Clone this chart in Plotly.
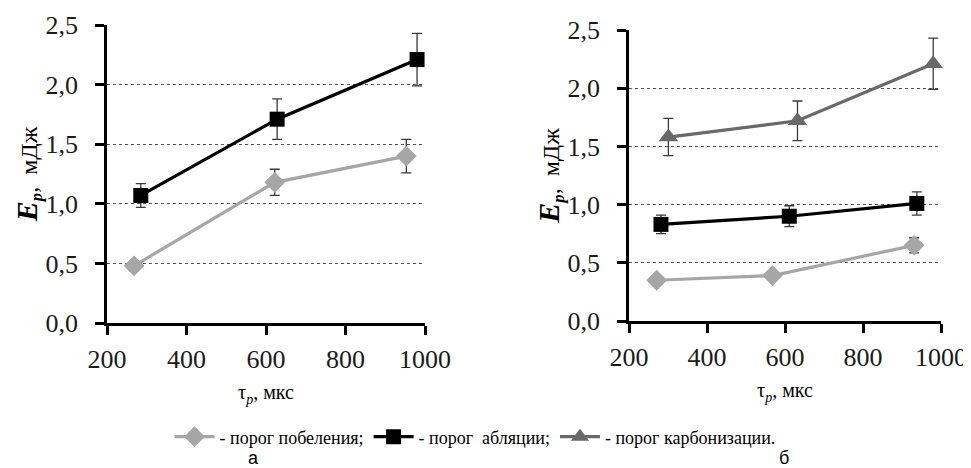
import plotly.graph_objects as go

# page body has an 8px margin: figure drawn at (8, 8) inside the 971x468 window
OFF = 8
FW, FH = 971 - OFF, 468 - OFF

# ---- data: panel а ----
a_white_x = [268, 622, 953]
a_white_y = [0.48, 1.18, 1.40]
a_white_err = [0.04, 0.11, 0.14]

a_abl_x = [285, 628, 980]
a_abl_y = [1.07, 1.71, 2.21]
a_abl_err = [0.10, 0.17, 0.22]

# ---- data: panel б ----
b_white_x = [271, 568, 931]
b_white_y = [0.35, 0.39, 0.65]
b_white_err = [0.03, 0.03, 0.065]

b_abl_x = [282, 611, 938]
b_abl_y = [0.83, 0.90, 1.01]
b_abl_err = [0.08, 0.09, 0.10]

b_carb_x = [301, 632, 980]
b_carb_y = [1.58, 1.72, 2.21]
b_carb_err = [0.16, 0.17, 0.22]

# ---- ticks ----
x_ticks = [200, 400, 600, 800, 1000]
x_ticktext = ["200", "400", "600", "800", "1000"]
y_ticks = [0.0, 0.5, 1.0, 1.5, 2.0, 2.5]
y_ticktext = ["0,0", "0,5", "1,0", "1,5", "2,0", "2,5"]

names = ["- порог побеления;", "- порог\u00a0\u00a0абляции;", "- порог карбонизации."]

C_WHITE = "#a6a6a6"
C_ABL = "#000000"
C_CARB = "#696969"
C_ERR = "#3a3a3a"

SERIF = "'Liberation Serif', 'Times New Roman', serif"
SANS = "'Liberation Sans', Arial, sans-serif"


def fx(px):
    return (px - OFF) / FW


def fy(py):
    return 1 - (py - OFF) / FH


def add_series(fig, x, y, err, color, symbol, size, xa, ya, name, show):
    fig.add_trace(go.Scatter(
        x=x, y=y, mode="lines+markers", name=name, showlegend=show,
        line=dict(color=color, width=3.2),
        marker=dict(symbol=symbol, size=size, color=color),
        error_y=dict(type="data", array=err, visible=True, color=C_ERR,
                     thickness=1.3, width=5),
        xaxis=xa, yaxis=ya, cliponaxis=False,
    ))


fig = go.Figure()
add_series(fig, a_white_x, a_white_y, a_white_err, C_WHITE, "diamond", 16, "x", "y", names[0], False)
add_series(fig, a_abl_x, a_abl_y, a_abl_err, C_ABL, "square", 15, "x", "y", names[1], False)
add_series(fig, b_white_x, b_white_y, b_white_err, C_WHITE, "diamond", 16, "x2", "y2", names[0], True)
add_series(fig, b_abl_x, b_abl_y, b_abl_err, C_ABL, "square", 15, "x2", "y2", names[1], True)
add_series(fig, b_carb_x, b_carb_y, b_carb_err, C_CARB, "triangle-up", 17, "x2", "y2", names[2], True)

xcommon = dict(
    range=[200, 1000], tickvals=x_ticks, ticktext=x_ticktext, automargin=False,
    showline=True, linecolor="black", linewidth=2.5,
    ticks="outside", ticklen=9, tickwidth=2.5, tickcolor="black",
    showgrid=False, zeroline=False, ticklabelstandoff=2,
    tickfont=dict(family=SERIF, size=26, color="#1a1a1a"),
    title=dict(text="τ<sub><i>p</i></sub>, мкс", standoff=13,
               font=dict(family=SERIF, size=20, color="black")),
)
ycommon = dict(
    range=[0, 2.5], tickvals=y_ticks, ticktext=y_ticktext, automargin=False,
    showline=True, linecolor="black", linewidth=2.5,
    ticks="outside", ticklen=9, tickwidth=2.5, tickcolor="black",
    showgrid=True, gridcolor="#555555", gridwidth=1, griddash="3px,3px",
    zeroline=False, ticklabelstandoff=12,
    tickfont=dict(family=SERIF, size=26, color="#1a1a1a"),
    title=dict(text="<b><i><span style='font-size:30px'>E</span><sub>p</sub></i></b>,  мДж",
               standoff=0, font=dict(family=SERIF, size=24, color="black")),
)

fig.update_layout(
    width=FW, height=FH,
    margin=dict(l=0, r=0, t=0, b=0),
    paper_bgcolor="white", plot_bgcolor="white",
    xaxis=dict(domain=[fx(107), fx(425)], anchor="y", **xcommon),
    yaxis=dict(domain=[fy(323), fy(25)], anchor="x", **ycommon),
    xaxis2=dict(domain=[fx(629), fx(941)], anchor="y2", **xcommon),
    yaxis2=dict(domain=[fy(321), fy(30)], anchor="x2", **ycommon),
    showlegend=True,
    legend=dict(orientation="h", x=fx(475), xanchor="center", y=fy(437), yanchor="middle",
                font=dict(family=SERIF, size=18, color="black"),
                itemwidth=40, bgcolor="rgba(0,0,0,0)"),
    annotations=[
        dict(text="а", x=fx(254), y=fy(458), xref="paper", yref="paper",
             xanchor="center", yanchor="middle",
             showarrow=False, font=dict(family=SANS, size=18, color="black")),
        dict(text="б", x=fx(784), y=fy(458), xref="paper", yref="paper",
             xanchor="center", yanchor="middle",
             showarrow=False, font=dict(family=SANS, size=18, color="black")),
    ],
)

fig.write_html("out.html")
